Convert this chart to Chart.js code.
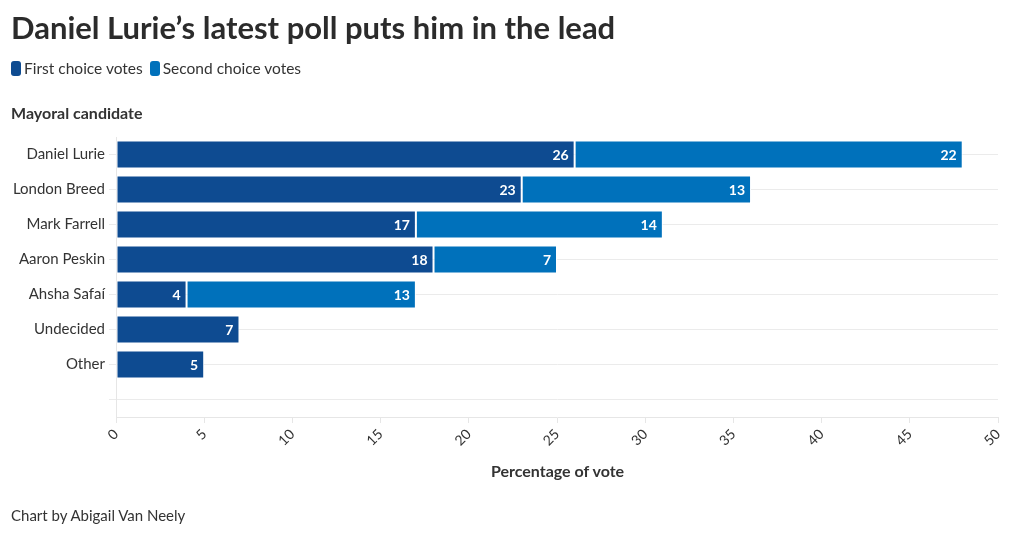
<!DOCTYPE html>
<html>
<head>
<meta charset="utf-8">
<script src="https://cdn.jsdelivr.net/npm/chart.js@4"></script>
<style>
  body { margin: 0; background: #fff; font-family: Lato, sans-serif; color: #333; }
  #wrap { position: relative; width: 1020px; height: 536px; overflow: hidden; }
  canvas { position: absolute; left: 0; top: 0; }
  .title { position: absolute; left: 11px; top: 8px; font-size: 31px; font-weight: 700; color: #2b2b2b; letter-spacing: 0; white-space: nowrap; }
  .legend { position: absolute; left: 11px; top: 59px; font-size: 15.5px; color: #333; display: flex; align-items: center; }
  .legend span.sw { display: inline-block; width: 10px; height: 15px; border-radius: 3px; margin-right: 3px; }
  .legend span.lb { margin-right: 7px; }
  .ytitle { position: absolute; left: 11px; top: 103px; font-size: 16px; font-weight: 700; color: #333; }
  .xtitle { position: absolute; left: 117px; width: 881px; top: 461px; text-align: center; font-size: 16px; font-weight: 700; color: #333; }
  .credit { position: absolute; left: 11px; top: 506px; font-size: 15px; color: #333; }
</style>
</head>
<body>
<div id="wrap">
  <canvas id="chart" width="1020" height="536"></canvas>
  <div class="title">Daniel Lurie’s latest poll puts him in the lead</div>
  <div class="legend" id="legend"></div>
  <div class="ytitle">Mayoral candidate</div>
  <div class="xtitle">Percentage of vote</div>
  <div class="credit">Chart by Abigail Van Neely</div>
</div>
<script>
const candidates = ["Daniel Lurie", "London Breed", "Mark Farrell", "Aaron Peskin", "Ahsha Safaí", "Undecided", "Other", ""];
const firstChoice = [26, 23, 17, 18, 4, 7, 5, null];
const secondChoice = [22, 13, 14, 7, 13, null, null, null];
const seriesNames = ["First choice votes", "Second choice votes"];
const xTicks = [0, 5, 10, 15, 20, 25, 30, 35, 40, 45, 50];

const COLORS = ["#0e4b91", "#0071bb"];

document.getElementById("legend").innerHTML = seriesNames
  .map((n, i) => `<span class="sw" style="background:${COLORS[i]}"></span><span class="lb">${n}</span>`)
  .join("");

// white value labels at the inner end of each segment
const valueLabels = {
  id: "valueLabels",
  afterDatasetsDraw(chart) {
    const ctx = chart.ctx;
    ctx.save();
    ctx.font = "bold 14px Lato";
    ctx.fillStyle = "#fff";
    ctx.textAlign = "right";
    ctx.textBaseline = "middle";
    chart.data.datasets.forEach((ds, di) => {
      chart.getDatasetMeta(di).data.forEach((bar, i) => {
        const v = ds.data[i];
        if (v == null) return;
        ctx.fillText(v, bar.x - 6, bar.y + 1);
      });
    });
    ctx.restore();
  },
};

new Chart(document.getElementById("chart").getContext("2d"), {
  type: "bar",
  data: {
    labels: candidates,
    datasets: [
      {
        label: seriesNames[0],
        data: firstChoice,
        backgroundColor: COLORS[0],
        borderColor: "#fff",
        borderWidth: 1,
        borderSkipped: false,
      },
      {
        label: seriesNames[1],
        data: secondChoice,
        backgroundColor: COLORS[1],
        borderColor: "#fff",
        borderWidth: 1,
        borderSkipped: false,
      },
    ],
  },
  options: {
    indexAxis: "y",
    responsive: false,
    animation: false,
    categoryPercentage: 0.8,
    barPercentage: 1,
    layout: { padding: { top: 137, left: 0, right: 22, bottom: 0 } },
    plugins: {
      legend: { display: false },
      tooltip: { enabled: false },
    },
    scales: {
      x: {
        stacked: true,
        min: 0,
        max: 50,
        afterBuildTicks: (s) => { s.ticks = xTicks.map((v) => ({ value: v })); },
        afterFit: (s) => { s.height = 119; },
        grid: { drawOnChartArea: false, drawTicks: true, tickLength: 6, color: "#e6e6e6" },
        border: { color: "#e6e6e6" },
        ticks: {
          minRotation: 45,
          maxRotation: 45,
          padding: 3,
          font: { family: "Lato", size: 14 },
          color: "#333",
        },
      },
      y: {
        stacked: true,
        afterFit: (s) => { s.width = 116; },
        grid: { offset: false, color: "#ebebeb", tickLength: 7 },
        border: { color: "#e6e6e6" },
        ticks: {
          padding: 4,
          font: { family: "Lato", size: 15 },
          color: "#333",
        },
      },
    },
  },
  plugins: [valueLabels],
});
</script>
</body>
</html>
